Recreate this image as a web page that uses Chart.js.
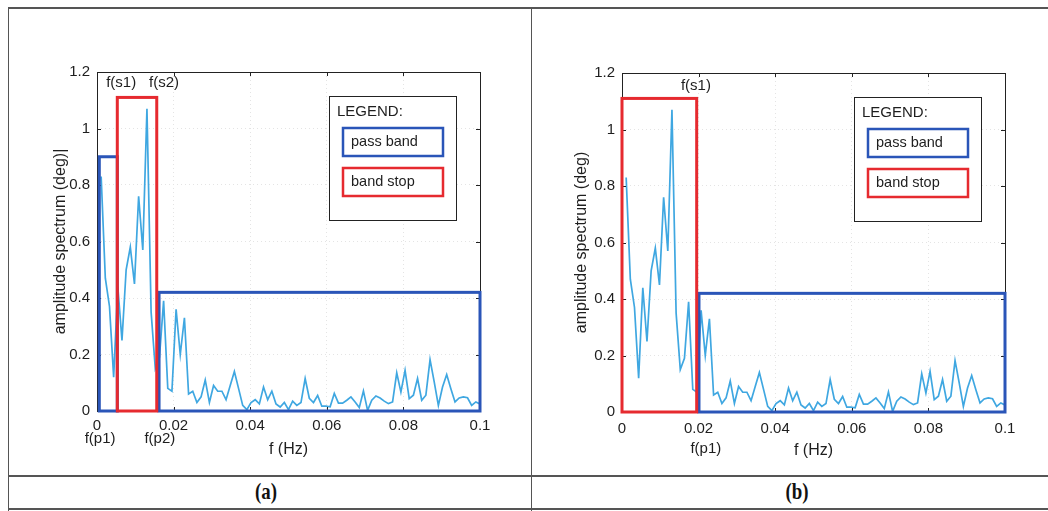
<!DOCTYPE html>
<html>
<head>
<meta charset="utf-8">
<script src="https://cdn.jsdelivr.net/npm/chart.js@4.4.1/dist/chart.umd.min.js"></script>
<style>
  html, body { margin: 0; padding: 0; background: #fff; }
  #page { position: relative; width: 1048px; height: 511px; overflow: hidden; }
  .rule { position: absolute; background: #555; }
  .panel { position: absolute; height: 476px; }
  .tag { position: absolute; top: 479px; font: bold 23px "Liberation Serif", "DejaVu Serif", serif; color: #111; transform: translateX(-50%) scaleX(0.82); }
</style>
</head>
<body>
<div id="page">
  <div class="rule" style="left:8px;top:7px;width:1040px;height:2px"></div>
  <div class="rule" style="left:8px;top:7px;width:1px;height:504px"></div>
  <div class="rule" style="left:531px;top:7px;width:1px;height:504px"></div>
  <div class="rule" style="left:8px;top:475px;width:1040px;height:2px"></div>
  <div class="rule" style="left:8px;top:508px;width:1040px;height:2px"></div>
  <div class="panel" style="left:0;top:0;width:531px"><canvas id="chartA"></canvas></div>
  <div class="panel" style="left:525px;top:1px;width:523px"><canvas id="chartB"></canvas></div>
  <div class="tag" style="left:266px">(a)</div>
  <div class="tag" style="left:797px">(b)</div>
</div>
<script>
(function() {
    // amplitude spectrum, one value per frequency bin
    var FREQ_STEP = 0.1 / 92;
    var amplitude = [
        0.83, 0.47, 0.37, 0.12, 0.44, 0.25, 0.50, 0.58, 0.45, 0.76,
        0.57, 1.07, 0.35, 0.15, 0.19, 0.39, 0.08, 0.07, 0.36, 0.20,
        0.33, 0.06, 0.07, 0.03, 0.05, 0.11, 0.03, 0.09, 0.07, 0.07,
        0.04, 0.09, 0.14, 0.08, 0.02, 0.005, 0.03, 0.04, 0.025, 0.085,
        0.04, 0.07, 0.025, 0.014, 0.03, 0.005, 0.035, 0.02, 0.03, 0.115,
        0.045, 0.03, 0.055, 0.017, 0.017, 0.015, 0.062, 0.028, 0.028, 0.038,
        0.05, 0.032, 0.012, 0.071, 0.002, 0.038, 0.053, 0.046, 0.035, 0.026,
        0.032, 0.135, 0.067, 0.144, 0.044, 0.056, 0.115, 0.038, 0.056, 0.182,
        0.103, 0.02, 0.085, 0.129, 0.079, 0.032, 0.046, 0.05, 0.047, 0.02,
        0.032, 0.025
    ];
    var freqs = amplitude.map(function(_, i) { return +((i + 1) * FREQ_STEP).toFixed(6); });
    var xTicks = [0, 0.02, 0.04, 0.06, 0.08, 0.1];
    var yTicks = [0, 0.2, 0.4, 0.6, 0.8, 1, 1.2];

    // pass / stop band boxes: [from Hz, to Hz, height]
    var passBandsA = [[0.0006, 0.0053, 0.90], [0.0162, 0.1, 0.42]];
    var stopBandsA = [[0.0053, 0.0156, 1.11]];
    var passBandsB = [[0.0201, 0.1, 0.42]];
    var stopBandsB = [[0, 0.0195, 1.11]];

    // edge frequency labels: [text, x, y]
    var edgeLabelsA = [["f(s1)", 0.0063, 1.16], ["f(s2)", 0.0175, 1.16], ["f(p1)", 0.0008, -0.097], ["f(p2)", 0.0164, -0.097]];
    var edgeLabelsB = [["f(s1)", 0.0193, 1.155], ["f(p1)", 0.0219, -0.132]];

    var BLUE = "#2a55b8";
    var RED = "#e62a2f";
    var LINE = "#3fa7e1";
    var INK = "#1e1e1e";
    var FONT = '"Liberation Sans", Arial, sans-serif';

    Chart.defaults.font.family = FONT;
    Chart.defaults.color = INK;

    var bandPlugin = {
        id: "bands",
        afterDatasetsDraw: function(chart, args, opts) {
            var ctx = chart.ctx, a = chart.chartArea;
            var xs = chart.scales.x, ys = chart.scales.y;
            ctx.save();
            // axes box with inward ticks
            ctx.strokeStyle = "#222";
            ctx.lineWidth = 1;
            ctx.strokeRect(Math.round(a.left) + 0.5, Math.round(a.top) + 0.5, Math.round(a.width), Math.round(a.height));
            ctx.beginPath();
            xTicks.forEach(function(v) {
                var px = Math.round(xs.getPixelForValue(v)) + 0.5;
                ctx.moveTo(px, a.bottom); ctx.lineTo(px, a.bottom - 4);
                ctx.moveTo(px, a.top); ctx.lineTo(px, a.top + 4);
            });
            yTicks.forEach(function(v) {
                var py = Math.round(ys.getPixelForValue(v)) + 0.5;
                ctx.moveTo(a.left, py); ctx.lineTo(a.left + 4, py);
                ctx.moveTo(a.right, py); ctx.lineTo(a.right - 4, py);
            });
            ctx.stroke();

            function box(b, color) {
                var x0 = xs.getPixelForValue(b[0]), x1 = xs.getPixelForValue(b[1]);
                var y0 = ys.getPixelForValue(b[2]), y1 = ys.getPixelForValue(0);
                ctx.strokeStyle = color;
                ctx.lineWidth = 3;
                ctx.strokeRect(x0, y0, x1 - x0, y1 - y0);
            }
            opts.pass.forEach(function(b) { box(b, BLUE); });
            opts.stop.forEach(function(b) { box(b, RED); });

            ctx.fillStyle = INK;
            ctx.font = "15px " + FONT;
            ctx.textAlign = "center";
            ctx.textBaseline = "middle";
            opts.labels.forEach(function(l) {
                ctx.fillText(l[0], xs.getPixelForValue(l[1]), ys.getPixelForValue(l[2]));
            });

            // legend panel
            var lx = a.left + 232, ly = a.top + 24;
            ctx.strokeStyle = "#222";
            ctx.lineWidth = 1;
            ctx.fillStyle = "#fff";
            ctx.fillRect(lx, ly, 127, 124);
            ctx.strokeRect(lx + 0.5, ly + 0.5, 127, 124);
            ctx.fillStyle = INK;
            ctx.textAlign = "left";
            ctx.font = "15px " + FONT;
            ctx.fillText("LEGEND:", lx + 8, ly + 16);
            ctx.lineWidth = 2.5;
            ctx.strokeStyle = BLUE;
            ctx.strokeRect(lx + 14, ly + 32, 100, 28);
            ctx.strokeStyle = RED;
            ctx.strokeRect(lx + 14, ly + 72, 100, 28);
            ctx.font = "14.5px " + FONT;
            ctx.fillText("pass band", lx + 22, ly + 46);
            ctx.fillText("band stop", lx + 22, ly + 86);
            ctx.restore();
        }
    };

    function makeChart(id, yTitle, titlePad, tickPad, rightPad, bands) {
        var points = freqs.map(function(f, i) { return { x: f, y: amplitude[i] }; });
        return new Chart(document.getElementById(id).getContext("2d"), {
            type: "line",
            data: {
                datasets: [{
                    data: points,
                    borderColor: LINE,
                    borderWidth: 1.7,
                    pointRadius: 0,
                    tension: 0,
                    fill: false
                }]
            },
            options: {
                responsive: true,
                maintainAspectRatio: false,
                animation: false,
                layout: { padding: { left: 0, top: 72, right: rightPad, bottom: 15 } },
                plugins: {
                    legend: { display: false },
                    tooltip: { enabled: false },
                    bands: bands
                },
                scales: {
                    x: {
                        type: "linear",
                        min: 0,
                        max: 0.1,
                        afterFit: function(s) { s.height = 50; },
                        afterBuildTicks: function(s) { s.ticks = xTicks.map(function(v) { return { value: v }; }); },
                        ticks: {
                            font: { size: 15 },
                            padding: tickPad,
                            maxRotation: 0,
                            callback: function(v) { return String(+v.toFixed(2)); }
                        },
                        grid: { color: "#e4e4e4", drawTicks: false },
                        border: { display: false, dash: [1, 3] },
                        title: { display: true, text: "f (Hz)", font: { size: 16 }, padding: { top: 0, bottom: 2 } }
                    },
                    y: {
                        min: 0,
                        max: 1.2,
                        afterFit: function(s) { s.width = 97; },
                        afterBuildTicks: function(s) { s.ticks = yTicks.map(function(v) { return { value: v }; }); },
                        ticks: {
                            font: { size: 15 },
                            padding: 7,
                            callback: function(v) { return String(+v.toFixed(1)); }
                        },
                        grid: { color: "#e4e4e4", drawTicks: false },
                        border: { display: false, dash: [1, 3] },
                        title: { display: true, text: yTitle, font: { size: 16 }, padding: { top: titlePad, bottom: 0 } }
                    }
                }
            },
            plugins: [bandPlugin]
        });
    }

    makeChart("chartA", "amplitude spectrum (deg)|", 51, 6, 51,
        { pass: passBandsA, stop: stopBandsA, labels: edgeLabelsA });
    makeChart("chartB", "amplitude spectrum (deg)", 47, 8, 43,
        { pass: passBandsB, stop: stopBandsB, labels: edgeLabelsB });
})();
</script>
</body>
</html>
